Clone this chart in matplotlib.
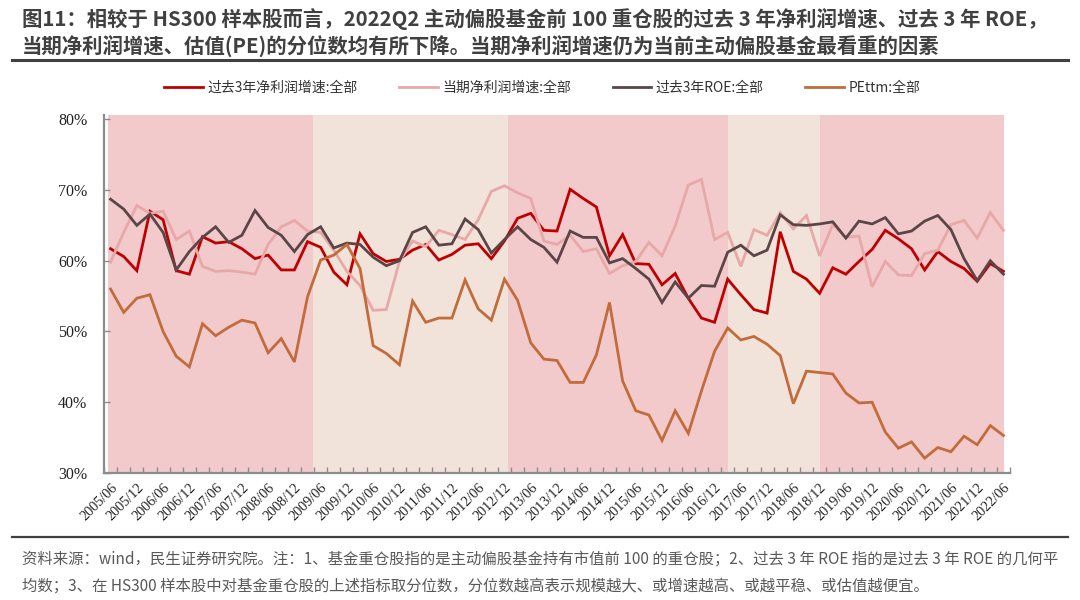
import matplotlib
matplotlib.use("Agg")
import matplotlib.pyplot as plt
from matplotlib.lines import Line2D
import numpy as np

plt.rcParams['font.family'] = ['Noto Sans CJK SC', 'DejaVu Sans']

# ---------------- data ----------------
years = list(range(2005, 2023))
quarters = []
for y in years:
    for m in ["03", "06", "09", "12"]:
        quarters.append(f"{y}/{m}")
quarters = quarters[1:quarters.index("2022/06") + 1]   # 2005/06 .. 2022/06

profit3y = [61.7, 60.6, 58.6, 67.0, 65.8, 58.6, 58.1, 63.4, 62.5, 62.7,
            61.7, 60.3, 60.8, 58.7, 58.7, 62.7, 61.9, 58.4, 56.6, 63.8,
            61.0, 59.9, 60.2, 61.5, 62.3, 60.1, 60.9, 62.2, 62.4, 60.3,
            62.8, 66.0, 66.7, 64.3, 64.2, 70.1, 68.8, 67.6, 60.7, 63.7,
            59.6, 59.5, 56.6, 58.2, 54.7, 51.9, 51.3, 57.4, 55.2, 53.1,
            52.6, 64.1, 58.5, 57.4, 55.4, 59.0, 58.1, 59.9, 61.6, 64.3,
            63.1, 61.7, 58.7, 61.3, 59.9, 58.9, 57.1, 59.6, 58.5]

profit_cur = [59.8, 64.0, 67.8, 66.7, 67.0, 63.0, 64.2, 59.2, 58.5, 58.6,
              58.4, 58.1, 62.3, 64.8, 65.7, 64.2, 64.0, 61.5, 58.5, 56.5,
              53.0, 53.1, 59.9, 62.8, 62.0, 64.3, 63.7, 63.0, 65.8, 69.8,
              70.6, 69.6, 68.8, 62.8, 62.3, 63.6, 61.3, 61.7, 58.2, 59.3,
              59.9, 62.6, 60.7, 64.9, 70.7, 71.5, 63.0, 64.0, 59.2, 64.4,
              63.6, 66.8, 64.5, 66.4, 60.7, 65.1, 63.3, 63.5, 56.3, 59.9,
              58.0, 57.9, 61.0, 61.5, 65.1, 65.7, 63.2, 66.8, 64.3]

roe3y = [68.7, 67.3, 65.0, 66.6, 64.0, 58.7, 61.3, 63.3, 64.8, 62.6,
         63.6, 67.1, 64.7, 63.6, 61.3, 63.7, 64.8, 61.8, 62.5, 62.3,
         60.5, 59.3, 60.0, 64.0, 64.8, 62.2, 62.4, 65.9, 64.4, 61.1,
         63.0, 64.8, 63.0, 61.9, 59.8, 64.2, 63.3, 63.3, 59.7, 60.3,
         58.9, 57.4, 54.1, 57.0, 54.7, 56.5, 56.4, 61.2, 62.2, 60.7,
         61.5, 66.5, 65.1, 65.0, 65.2, 65.5, 63.2, 65.6, 65.2, 66.1,
         63.8, 64.2, 65.6, 66.4, 64.4, 60.3, 57.2, 60.0, 58.1]

pe_ttm = [56.0, 52.7, 54.7, 55.2, 50.0, 46.5, 45.0, 51.1, 49.4, 50.6,
          51.6, 51.2, 47.0, 49.0, 45.7, 54.9, 60.1, 60.8, 62.3, 58.9,
          48.0, 46.9, 45.3, 54.3, 51.3, 51.9, 51.9, 57.3, 53.2, 51.6,
          57.4, 54.4, 48.4, 46.1, 45.9, 42.8, 42.8, 46.7, 54.1, 43.0,
          38.8, 38.2, 34.6, 38.8, 35.6, 41.6, 47.2, 50.5, 48.8, 49.3,
          48.2, 46.6, 39.8, 44.4, 44.2, 44.0, 41.3, 39.9, 40.0, 35.8,
          33.5, 34.4, 32.1, 33.6, 33.0, 35.2, 34.0, 36.7, 35.3]

series_names = ["过去3年净利润增速:全部", "当期净利润增速:全部", "过去3年ROE:全部", "PEttm:全部"]
series_colors = ["#C00000", "#E8A8A8", "#5B4547", "#C26C3C"]

# shaded periods (in category units) and their colours
band_edges = [-0.2, 15.4, 30.25, 47.0, 54.0, 68.05]
band_colors = ["#F2CACC", "#F2E3DA", "#F2CACC", "#F2E3DA", "#F2CACC"]

yticks = [30, 40, 50, 60, 70, 80]

# ---------------- figure ----------------
fig = plt.figure(figsize=(10.8, 6.0), dpi=100)
ax = fig.add_axes([104 / 1080, 1 - 473 / 600, (1010 - 104) / 1080, (473 - 115) / 600])

x = np.arange(len(quarters))
for i in range(len(band_colors)):
    ax.axvspan(band_edges[i], band_edges[i + 1], ymin=0, ymax=1,
               color=band_colors[i], lw=0, zorder=0)

for vals, name, col in zip([profit3y, profit_cur, roe3y, pe_ttm], series_names, series_colors):
    ax.plot(x, vals, color=col, lw=2.0, label=name, zorder=3, solid_joinstyle='miter')

ax.set_xlim(-0.5, len(quarters) - 0.5)
ax.set_ylim(30, 80.6)

for s in ["top", "right"]:
    ax.spines[s].set_visible(False)
for s in ["left", "bottom"]:
    ax.spines[s].set_color("#8C8C8C")
    ax.spines[s].set_linewidth(1.6)

ax.set_yticks(yticks)
ax.set_yticklabels([f"{v}%" for v in yticks], family="Liberation Serif", fontsize=11.5, color="#222222")
ax.tick_params(axis="y", direction="in", length=4, color="#8C8C8C", width=1, pad=12)

label_pos = x[::2]
ax.set_xticks(label_pos)
ax.set_xticklabels([quarters[i] for i in label_pos], rotation=45, ha="right", va="top",
                   rotation_mode="anchor", family="Liberation Serif", fontsize=10.3, color="#222222")
ax.set_xticks(np.arange(-0.5, len(quarters), 1.0), minor=True)
ax.tick_params(axis="x", which="major", length=0, pad=6)
ax.tick_params(axis="x", which="minor", direction="in", length=4, color="#8C8C8C", width=1)

# legend
fig.legend(*ax.get_legend_handles_labels(), loc="center", bbox_to_anchor=(0.502, 1 - 88 / 600),
           ncol=4, frameon=False, fontsize=10, handlelength=2.8, handletextpad=0.3,
           columnspacing=3.0, labelcolor="#333333")

# title
title1 = "图11：相较于 HS300 样本股而言，2022Q2 主动偏股基金前 100 重仓股的过去 3 年净利润增速、过去 3 年 ROE，"
title2 = "当期净利润增速、估值(PE)的分位数均有所下降。当期净利润增速仍为当前主动偏股基金最看重的因素"
fig.text(22 / 1080, 1 - 19 / 600, title1, fontsize=14.7, fontweight="bold", color="#404040",
         ha="left", va="center")
fig.text(22 / 1080, 1 - 46 / 600, title2, fontsize=14.7, fontweight="bold", color="#404040",
         ha="left", va="center")
fig.add_artist(Line2D([12 / 1080, 1068 / 1080], [1 - 60 / 600] * 2, color="#404040", lw=2.2))

# footer
fig.add_artist(Line2D([12 / 1080, 1068 / 1080], [1 - 537 / 600] * 2, color="#404040", lw=1.6))
foot1 = "资料来源：wind，民生证券研究院。注：1、基金重仓股指的是主动偏股基金持有市值前 100 的重仓股；2、过去 3 年 ROE 指的是过去 3 年 ROE 的几何平"
foot2 = "均数；3、在 HS300 样本股中对基金重仓股的上述指标取分位数，分位数越高表示规模越大、或增速越高、或越平稳、或估值越便宜。"
fig.text(22 / 1080, 1 - 559 / 600, foot1, fontsize=11.1, color="#595959", ha="left", va="center")
fig.text(22 / 1080, 1 - 586 / 600, foot2, fontsize=11.1, color="#595959", ha="left", va="center")

fig.savefig("out.png", dpi=100)
